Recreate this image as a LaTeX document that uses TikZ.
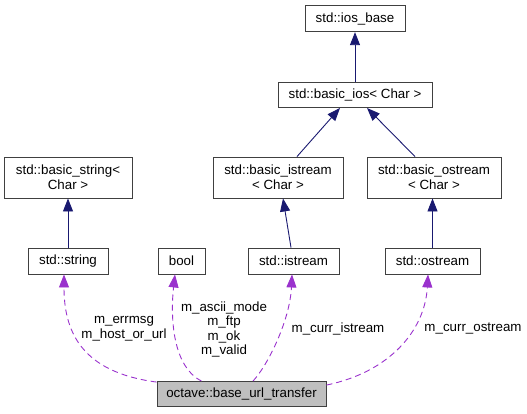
\documentclass[tikz,border=0pt]{standalone}
\usepackage{fontspec}
\setmainfont{Liberation Sans}
\usetikzlibrary{arrows.meta}
\definecolor{inhcol}{HTML}{191970}
\definecolor{usecol}{HTML}{9A32CD}
\definecolor{boxline}{HTML}{404040}
\tikzset{
  cls/.style={draw=boxline, line width=0.9bp, fill=white, rectangle, inner sep=0pt, align=center,
    font=\fontsize{13.33bp}{14.6bp}\selectfont},
  cur/.style={cls, fill=black!25},
  inh/.style={draw=inhcol, line width=0.9bp, -{Triangle[length=13bp,width=10bp]}},
  use/.style={draw=usecol, line width=0.9bp, dash pattern=on 6bp off 4bp,
    -{Triangle[length=13bp,width=10bp]}},
  lbl/.style={align=center, inner sep=0pt, font=\fontsize{13.33bp}{14.6bp}\selectfont}
}
\begin{document}
\begin{tikzpicture}[x=1bp,y=-1bp]
\useasboundingbox (0,0) rectangle (527,413);
% nodes
\node[cls, minimum width=100bp, minimum height=26bp] (ios) at (355,18.7) {std::ios\_base};
\node[cls, minimum width=154bp, minimum height=25bp] (bios) at (355,95) {std::basic\_ios< Char >};
\node[cls, minimum width=130bp, minimum height=41bp] (bis) at (278,177.5) {std::basic\_istream\\< Char >};
\node[cls, minimum width=134bp, minimum height=41bp] (bos) at (434,177.5) {std::basic\_ostream\\< Char >};
\node[cls, minimum width=128bp, minimum height=41bp] (bstr) at (68,177.5) {std::basic\_string<\\Char >};
\node[cls, minimum width=80bp, minimum height=26bp] (str) at (68,261) {std::string};
\node[cls, minimum width=47bp, minimum height=26bp] (bool) at (181.5,261) {bool};
\node[cls, minimum width=91bp, minimum height=26bp] (is) at (293.5,261) {std::istream};
\node[cls, minimum width=95bp, minimum height=26bp] (os) at (432.5,261) {std::ostream};
\node[cur, minimum width=169bp, minimum height=25bp] (but) at (241.5,394) {octave::base\_url\_transfer};
% inheritance edges
\draw[inh] (bios.north) -- (ios.south);
\draw[inh] ([xshift=19bp]bis.north) -- ([xshift=-15bp]bios.south);
\draw[inh] ([xshift=-19bp]bos.north) -- ([xshift=12bp]bios.south);
\draw[inh] ([xshift=-2.5bp]is.north) -- ([xshift=5bp]bis.south);
\draw[inh] (os.north) -- ([xshift=-1.5bp]bos.south);
\draw[inh] (str.north) -- (bstr.south);
% usage edges
\draw[use] ([yshift=-1bp]but.north west) .. controls (80,372) and (64,330) .. ([xshift=-4bp]str.south);
\draw[use] ([xshift=-40bp]but.north) .. controls (170,365) and (171,310) .. ([xshift=-6.5bp]bool.south);
\draw[use] ([xshift=11.5bp]but.north) .. controls (268,365) and (290,320) .. ([xshift=-1.5bp]is.south);
\draw[use] ([yshift=-4bp]but.north east) .. controls (390,372) and (425,330) .. ([xshift=-4.5bp]os.south);
% labels
\node[lbl] (l1) at (124,329) {m\_errmsg\\m\_host\_or\_url};
\node[lbl] (l2) at (224,329.5) {m\_ascii\_mode\\m\_ftp\\m\_ok\\m\_valid};
\node[lbl] (l3) at (338,329) {m\_curr\_istream};
\node[lbl] (l4) at (473,329) {m\_curr\_ostream};
\end{tikzpicture}
\end{document}
